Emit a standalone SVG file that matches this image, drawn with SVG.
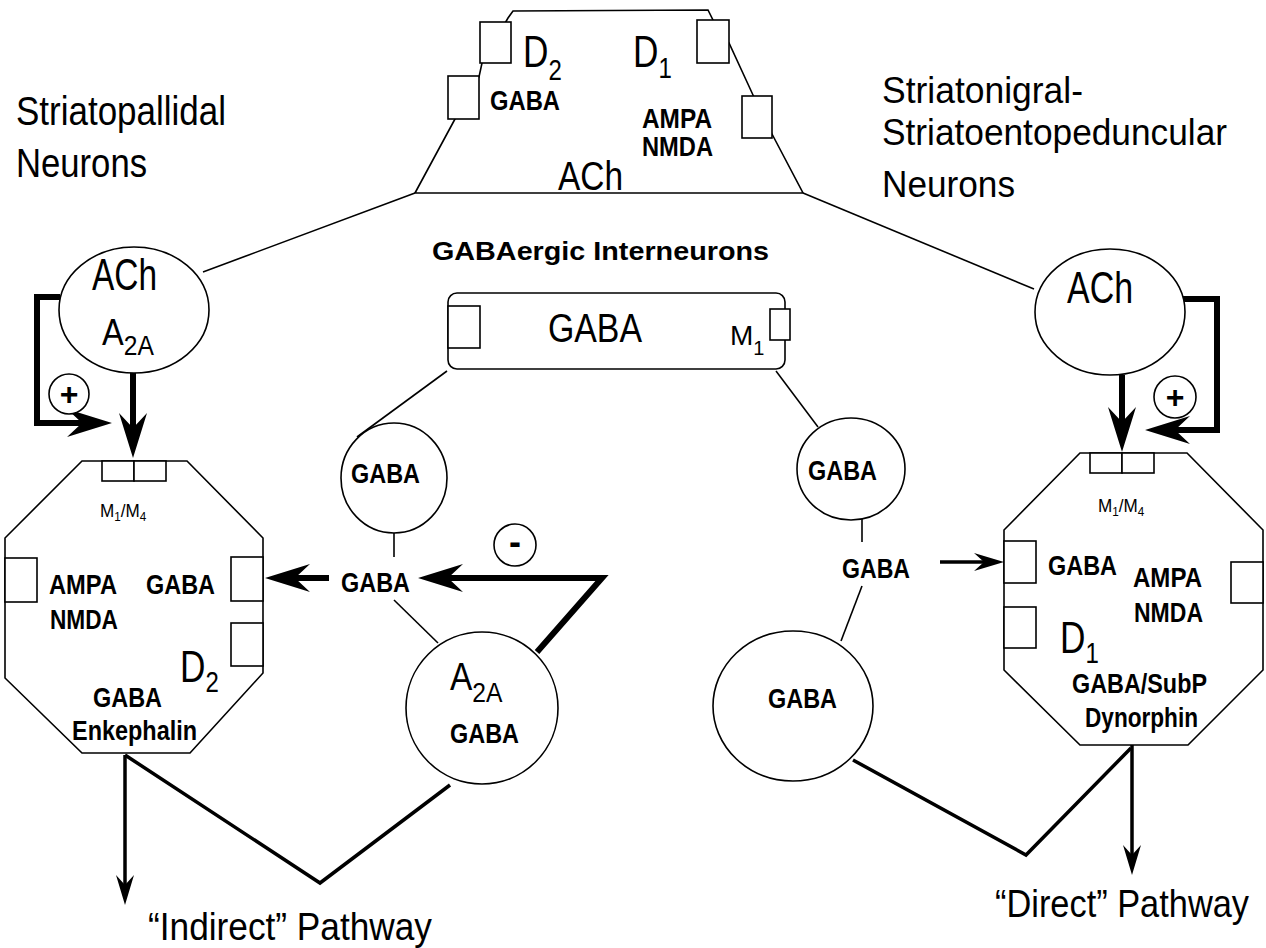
<svg xmlns="http://www.w3.org/2000/svg" width="1266" height="948" viewBox="0 0 1266 948">
<style>
text{font-family:"Liberation Sans",Arial,sans-serif;fill:#000}
.r{font-size:41px}
.r2{font-size:37px}
.b{font-size:28px;font-weight:bold}
.sh{fill:#fff;stroke:#000;stroke-width:1.6}
.thin{fill:none;stroke:#000;stroke-width:1.6}
.med{fill:none;stroke:#000;stroke-width:3.5}
.thick{fill:none;stroke:#000;stroke-width:6;stroke-linejoin:miter}
</style>
<defs>
<marker id="big" viewBox="0 0 45 28" refX="25" refY="14" markerWidth="45" markerHeight="28" markerUnits="userSpaceOnUse" orient="auto">
<path d="M45,14 L0,0 L15,14 L0,28 Z" fill="#000"/>
</marker>
<marker id="small" viewBox="0 0 30 18" refX="18" refY="9" markerWidth="30" markerHeight="18" markerUnits="userSpaceOnUse" orient="auto">
<path d="M30,9 L0,0 L10,9 L0,18 Z" fill="#000"/>
</marker>
</defs>
<rect width="1266" height="948" fill="#fff"/>

<!-- titles -->
<g id="label-striatopallidal">
<text class="r" x="16" y="125" textLength="210" lengthAdjust="spacingAndGlyphs">Striatopallidal</text>
<text class="r" x="16" y="177" textLength="131" lengthAdjust="spacingAndGlyphs">Neurons</text>
</g>
<g id="label-striatonigral">
<text class="r2" x="882" y="103" textLength="201" lengthAdjust="spacingAndGlyphs">Striatonigral-</text>
<text class="r2" x="882" y="145" textLength="345" lengthAdjust="spacingAndGlyphs">Striatoentopeduncular</text>
<text class="r2" x="882" y="197" textLength="133" lengthAdjust="spacingAndGlyphs">Neurons</text>
</g>
<g id="label-interneurons">
<text class="b" x="432" y="260" style="font-size:25px" textLength="337" lengthAdjust="spacingAndGlyphs">GABAergic Interneurons</text>
</g>

<!-- connectors -->
<g id="connectors">
<line class="thin" x1="203" y1="272" x2="415" y2="193"/>
<line class="thin" x1="1034" y1="289" x2="803" y2="193"/>
<line class="thin" x1="447" y1="371" x2="357" y2="437"/>
<line class="thin" x1="776" y1="371" x2="818" y2="427"/>
<line class="thin" x1="394" y1="533" x2="394" y2="557"/>
<line class="thin" x1="394" y1="600" x2="438" y2="643"/>
<line class="thin" x1="862" y1="519" x2="862" y2="542"/>
<line class="thin" x1="862" y1="586" x2="841" y2="641"/>
<polyline class="med" points="450,785 320,883 125,755"/>
<polyline class="med" points="853,760 1026,855 1131,748"/>
<line class="med" x1="125" y1="755" x2="125" y2="893" marker-end="url(#small)"/>
<line class="med" x1="1132" y1="745" x2="1132" y2="863" marker-end="url(#small)"/>
<line class="med" x1="940" y1="562" x2="992" y2="562" marker-end="url(#small)"/>
<path class="thick" d="M60,297 H37 V423 H92" marker-end="url(#big)"/>
<line class="thick" x1="133" y1="372" x2="133" y2="438" marker-end="url(#big)"/>
<line class="thick" x1="329" y1="578" x2="285" y2="578" marker-end="url(#big)"/>
<path class="thick" d="M537,652 L602,578 H438" marker-end="url(#big)"/>
<path class="thick" d="M1183,299 H1217 V430 H1165" marker-end="url(#big)"/>
<line class="thick" x1="1122" y1="375" x2="1122" y2="432" marker-end="url(#big)"/>
</g>

<!-- top cholinergic interneuron -->
<g id="ach-interneuron">
<polygon class="sh" points="415,193 455,119 479,77 482,63 508,18 513,11 708,10 716,26 729,43 753,95 772,134 803,193"/>
<rect class="sh" x="480" y="22" width="31" height="41"/>
<rect class="sh" x="448" y="76" width="31" height="43"/>
<rect class="sh" x="697" y="20" width="32" height="43"/>
<rect class="sh" x="742" y="96" width="30" height="42"/>
<text transform="translate(523,67) scale(0.8,1)" style="font-size:44px">D<tspan dy="13" style="font-size:30px">2</tspan></text>
<text transform="translate(633,67) scale(0.8,1)" style="font-size:44px">D<tspan dy="11" style="font-size:30px">1</tspan></text>
<text class="b" x="490" y="110" textLength="70" lengthAdjust="spacingAndGlyphs">GABA</text>
<text class="b" x="642" y="128" textLength="70" lengthAdjust="spacingAndGlyphs">AMPA</text>
<text class="b" x="642" y="156" textLength="71" lengthAdjust="spacingAndGlyphs">NMDA</text>
<text x="558" y="190" style="font-size:40px" textLength="65" lengthAdjust="spacingAndGlyphs">ACh</text>
</g>

<!-- left ACh circle -->
<g id="ach-left">
<ellipse class="sh" cx="134" cy="310" rx="75" ry="63"/>
<text x="92" y="290" style="font-size:44px" textLength="65" lengthAdjust="spacingAndGlyphs">ACh</text>
<text transform="translate(102,345) scale(0.88,1)" style="font-size:37px">A<tspan dy="10" style="font-size:28px">2A</tspan></text>
</g>
<g id="plus-left">
<circle class="sh" cx="69" cy="394" r="20"/>
<text class="b" x="69" y="405" text-anchor="middle" style="font-size:32px">+</text>
</g>

<!-- right ACh circle -->
<g id="ach-right">
<ellipse class="sh" cx="1110" cy="312" rx="75" ry="63"/>
<text x="1067" y="303" style="font-size:44px" textLength="66" lengthAdjust="spacingAndGlyphs">ACh</text>
</g>
<g id="plus-right">
<circle class="sh" cx="1175" cy="397" r="21"/>
<text class="b" x="1175" y="408" text-anchor="middle" style="font-size:32px">+</text>
</g>

<!-- GABA interneuron rect -->
<g id="gaba-interneuron">
<rect class="sh" x="448" y="293" width="337" height="76" rx="9"/>
<rect class="sh" x="448" y="306" width="32" height="42"/>
<rect class="sh" x="770" y="309" width="20" height="31"/>
<text x="548" y="342" style="font-size:40px" textLength="94" lengthAdjust="spacingAndGlyphs">GABA</text>
<text x="730" y="345" style="font-size:28px">M<tspan dy="10" style="font-size:20px">1</tspan></text>
</g>

<!-- left middle circles -->
<g id="gaba-left-small">
<ellipse class="sh" cx="394" cy="478" rx="53" ry="55"/>
<text class="b" x="351" y="483" textLength="69" lengthAdjust="spacingAndGlyphs">GABA</text>
</g>
<g id="gaba-left-label">
<text class="b" x="341" y="592" textLength="69" lengthAdjust="spacingAndGlyphs">GABA</text>
</g>
<g id="a2a-gaba">
<circle class="sh" cx="482" cy="708" r="76"/>
<text transform="translate(450,690) scale(0.88,1)" style="font-size:38px">A<tspan dy="12" style="font-size:28px">2A</tspan></text>
<text class="b" x="450" y="743" textLength="69" lengthAdjust="spacingAndGlyphs">GABA</text>
</g>
<g id="minus">
<circle class="sh" cx="515" cy="545" r="21"/>
<text class="b" x="515" y="554" text-anchor="middle" style="font-size:36px">-</text>
</g>

<!-- right middle circles -->
<g id="gaba-right-small">
<ellipse class="sh" cx="851" cy="469" rx="54" ry="51"/>
<text class="b" x="808" y="480" textLength="69" lengthAdjust="spacingAndGlyphs">GABA</text>
</g>
<g id="gaba-right-label">
<text class="b" x="842" y="578" textLength="68" lengthAdjust="spacingAndGlyphs">GABA</text>
</g>
<g id="gaba-right-big">
<ellipse class="sh" cx="793" cy="706" rx="80" ry="75"/>
<text class="b" x="768" y="708" textLength="69" lengthAdjust="spacingAndGlyphs">GABA</text>
</g>

<!-- left striatopallidal neuron -->
<g id="neuron-left">
<polygon class="sh" points="82,461 187,461 263,538 263,673 190,753 82,753 5,678 5,538"/>
<rect class="sh" x="102" y="461" width="32" height="20"/>
<rect class="sh" x="134" y="461" width="32" height="20"/>
<rect class="sh" x="5" y="558" width="32" height="44"/>
<rect class="sh" x="231" y="557" width="32" height="44"/>
<rect class="sh" x="231" y="623" width="32" height="43"/>
<text transform="translate(100,517) scale(0.9,1)" style="font-size:19px">M<tspan dy="4" style="font-size:13px">1</tspan><tspan dy="-4" style="font-size:19px">/M</tspan><tspan dy="4" style="font-size:13px">4</tspan></text>
<text class="b" x="49" y="594" textLength="68" lengthAdjust="spacingAndGlyphs">AMPA</text>
<text class="b" x="50" y="629" textLength="68" lengthAdjust="spacingAndGlyphs">NMDA</text>
<text class="b" x="146" y="594" textLength="69" lengthAdjust="spacingAndGlyphs">GABA</text>
<text transform="translate(180,682) scale(0.8,1)" style="font-size:44px">D<tspan dy="10" style="font-size:30px">2</tspan></text>
<text class="b" x="93" y="707" textLength="69" lengthAdjust="spacingAndGlyphs">GABA</text>
<text class="b" x="72" y="740" textLength="125" lengthAdjust="spacingAndGlyphs">Enkephalin</text>
</g>

<!-- right striatonigral neuron -->
<g id="neuron-right">
<polygon class="sh" points="1080,453 1187,453 1263,530 1263,670 1188,745 1080,745 1004,670 1004,530"/>
<rect class="sh" x="1090" y="453" width="32" height="20"/>
<rect class="sh" x="1122" y="453" width="32" height="20"/>
<rect class="sh" x="1004" y="541" width="32" height="42"/>
<rect class="sh" x="1004" y="607" width="32" height="41"/>
<rect class="sh" x="1231" y="562" width="32" height="41"/>
<text transform="translate(1098,512) scale(0.9,1)" style="font-size:19px">M<tspan dy="4" style="font-size:13px">1</tspan><tspan dy="-4" style="font-size:19px">/M</tspan><tspan dy="4" style="font-size:13px">4</tspan></text>
<text class="b" x="1048" y="575" textLength="69" lengthAdjust="spacingAndGlyphs">GABA</text>
<text class="b" x="1133" y="587" textLength="69" lengthAdjust="spacingAndGlyphs">AMPA</text>
<text class="b" x="1134" y="622" textLength="69" lengthAdjust="spacingAndGlyphs">NMDA</text>
<text transform="translate(1060,653) scale(0.8,1)" style="font-size:44px">D<tspan dy="10" style="font-size:30px">1</tspan></text>
<text class="b" x="1072" y="693" textLength="135" lengthAdjust="spacingAndGlyphs">GABA/SubP</text>
<text class="b" x="1085" y="727" textLength="113" lengthAdjust="spacingAndGlyphs">Dynorphin</text>
</g>

<!-- pathway labels -->
<g id="label-indirect">
<text x="148" y="940" style="font-size:38px" textLength="284" lengthAdjust="spacingAndGlyphs">“Indirect” Pathway</text>
</g>
<g id="label-direct">
<text transform="translate(995,917) scale(0.905,1)" style="font-size:38px">“Direct” Pathway</text>
</g>
</svg>
